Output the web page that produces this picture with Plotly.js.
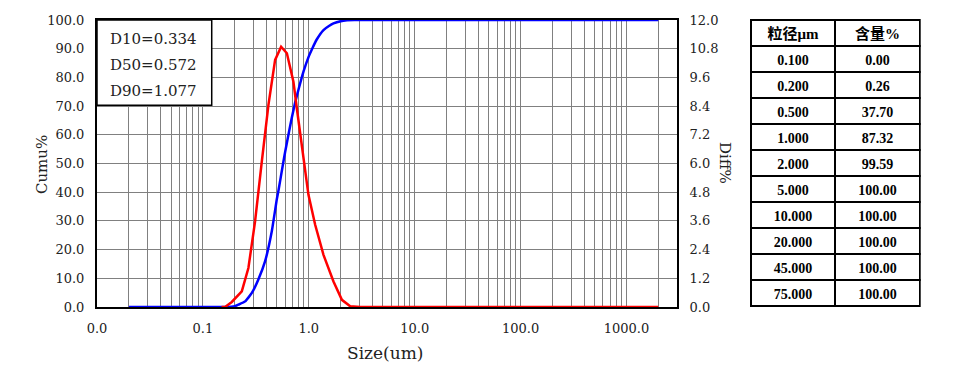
<!DOCTYPE html>
<html>
<head>
<meta charset="utf-8">
<script src="https://cdn.plot.ly/plotly-3.0.1.min.js"></script>
<style>html,body{margin:0;padding:0;background:#fff;}#chart{width:961px;height:374px;}</style>
</head>
<body>
<div id="chart"></div>
<script>
// ---- data ----
const diffSizes  = [0.15, 0.162, 0.1875, 0.233, 0.269, 0.311, 0.360, 0.416, 0.481, 0.548, 0.621, 0.716, 0.771, 0.891, 0.993, 1.149, 1.377, 1.711, 2.055, 2.46, 3.06, 2000];
const diffValues = [0, 0, 0.21, 0.65, 1.63, 3.58, 6.08, 8.45, 10.33, 10.88, 10.61, 9.42, 8.31, 6.36, 4.69, 3.44, 2.18, 1.07, 0.30, 0.03, 0, 0];

const cumuSizes  = [0.02, 0.16, 0.185, 0.2, 0.2166, 0.2506, 0.29, 0.334, 0.387, 0.448, 0.5, 0.517, 0.572, 0.598, 0.65, 0.692, 0.744, 0.8, 0.891, 1.0, 1.077, 1.193, 1.377, 1.55, 1.711, 2.0, 2.3, 2.7, 2000];
const cumuValues = [0, 0, 0.08, 0.26, 0.8, 1.95, 4.9, 9.6, 16.0, 26.5, 37.7, 40.5, 50.0, 54.0, 61.0, 66.0, 71.3, 75.8, 82.0, 87.32, 90.0, 93.3, 96.5, 97.9, 98.8, 99.59, 99.9, 100, 100];

const dNames  = ['D10', 'D50', 'D90'];
const dValues = ['0.334', '0.572', '1.077'];

const xTickVals = [0.01, 0.1, 1, 10, 100, 1000];
const xTickText = ['0.0', '0.1', '1.0', '10.0', '100.0', '1000.0'];

const tableHeader  = ['粒径μm', '含量%'];
const tableSizes   = [0.1, 0.2, 0.5, 1, 2, 5, 10, 20, 45, 75];
const tableContent = [0.00, 0.26, 37.70, 87.32, 99.59, 100, 100, 100, 100, 100];

// ---- layout helpers ----
const minorGrid = [];
for (let e = -2; e <= 3; e++) {
  for (let m = 2; m <= 9; m++) {
    const v = m * Math.pow(10, e);
    if (v <= 2000) minorGrid.push(v);
  }
}
const tickFont = {family: 'DejaVu Serif', size: 13, color: '#222'};
const gridColor = '#808080';

const traces = [
  {x: diffSizes, y: diffValues, type: 'scatter', mode: 'lines', yaxis: 'y2',
   line: {color: '#ff0000', width: 2.5}, hoverinfo: 'skip'},
  {x: cumuSizes, y: cumuValues, type: 'scatter', mode: 'lines', yaxis: 'y',
   line: {color: '#0000ff', width: 2.5, shape: 'spline', smoothing: 0.4}, hoverinfo: 'skip'},
  {type: 'table', domain: {x: [0.7943, 1], y: [0, 1]},
   columnwidth: [1, 1],
   header: {values: tableHeader, height: 26, align: 'center',
            line: {color: '#000', width: 2}, fill: {color: '#fff'},
            font: {family: 'Liberation Serif, Noto Sans CJK SC', size: 15, color: '#000', weight: 'bold'}},
   cells: {values: [tableSizes.map(v => v.toFixed(3)), tableContent.map(v => v.toFixed(2))],
           height: 26, align: 'center',
           line: {color: '#000', width: 2}, fill: {color: '#fff'},
           font: {family: 'Liberation Serif', size: 14, color: '#000', weight: 'bold'}}}
];

const annotations = dNames.map((n, i) => ({
  xref: 'paper', yref: 'paper', x: 0.0134, y: [0.9338, 0.8432, 0.7526][i],
  xanchor: 'left', yanchor: 'middle', showarrow: false,
  text: n + '=' + dValues[i], font: {family: 'DejaVu Serif', size: 15, color: '#222'}
}));
annotations.push(
  {xref: 'paper', yref: 'paper', x: -0.0668, y: 0.4948, textangle: -90, showarrow: false,
   xanchor: 'center', yanchor: 'middle', text: 'Cumu%', font: {family: 'DejaVu Serif', size: 15, color: '#222'}},
  {xref: 'paper', yref: 'paper', x: 0.763, y: 0.5017, textangle: 90, showarrow: false,
   xanchor: 'center', yanchor: 'middle', text: 'Diff%', font: {family: 'DejaVu Serif', size: 15, color: '#222'}},
  {xref: 'paper', yref: 'paper', x: 0.35, y: -0.1603, showarrow: false,
   xanchor: 'center', yanchor: 'middle', text: 'Size(um)', font: {family: 'DejaVu Serif', size: 17, color: '#222'}}
);

const layout = {
  width: 961, height: 374,
  margin: {l: 97, r: 41, t: 20, b: 67, pad: 0},
  paper_bgcolor: '#fff', plot_bgcolor: '#fff',
  showlegend: false,
  xaxis: {type: 'log', range: [-2, Math.log10(3000)], domain: [0, 0.7047],
          tickmode: 'array', tickvals: xTickVals, ticktext: xTickText,
          showgrid: true, gridcolor: gridColor, gridwidth: 1,
          minor: {tickmode: 'array', tickvals: minorGrid, showgrid: true, gridcolor: gridColor, gridwidth: 1, ticks: ''},
          showline: true, linecolor: '#000', linewidth: 2, mirror: true,
          ticks: '', tickfont: tickFont, ticklabelstandoff: 8, zeroline: false},
  yaxis: {range: [0, 100], dtick: 10, tick0: 0, tickformat: '.1f',
          showgrid: true, gridcolor: gridColor, gridwidth: 1,
          showline: true, linecolor: '#000', linewidth: 2, mirror: true,
          ticks: '', tickfont: tickFont, ticklabelstandoff: 8, zeroline: false},
  yaxis2: {range: [0, 12], dtick: 1.2, tick0: 0, tickformat: '.1f', overlaying: 'y', side: 'right',
           showgrid: false, showline: true, linecolor: '#000', linewidth: 2,
           ticks: '', tickfont: tickFont, ticklabelstandoff: 8, zeroline: false},
  shapes: [{type: 'rect', xref: 'paper', yref: 'paper', x0: 0, x1: 0.1394, y0: 0.7028, y1: 1,
            fillcolor: '#fff', line: {color: '#000', width: 1.5}, layer: 'above'}],
  annotations: annotations
};

Plotly.newPlot('chart', traces, layout, {staticPlot: true, displayModeBar: false});
</script>
</body>
</html>
